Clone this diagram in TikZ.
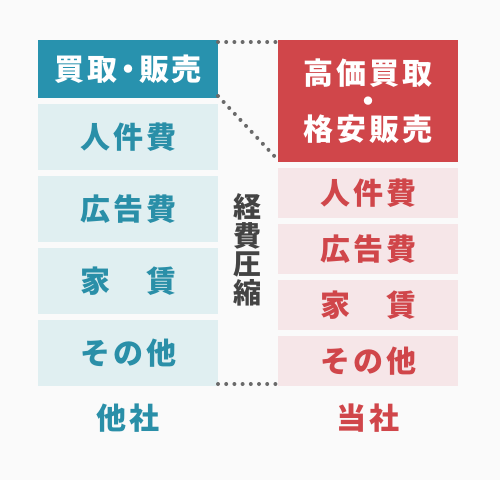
\documentclass[tikz,border=0pt]{standalone}
\usepackage{fontspec}
\usepackage{tikz}
\usetikzlibrary{positioning}
\newfontfamily\jpfont{Noto Sans CJK JP}[LetterSpace=10]
\newfontfamily\jpplain{Noto Sans CJK JP}
\definecolor{bgcol}{HTML}{FAFAFA}
\definecolor{teal}{HTML}{2892AE}
\definecolor{tealtext}{HTML}{2A8FA8}
\definecolor{teallight}{HTML}{E0EFF1}
\definecolor{redcol}{HTML}{D0464A}
\definecolor{redlight}{HTML}{F6E6E8}
\definecolor{dotcol}{HTML}{6A6A6A}
\definecolor{darkcol}{HTML}{444444}
\tikzstyle{cost} = [rectangle, minimum width=180pt, inner sep=0pt, outer sep=0pt, text centered, font=\jpfont\bfseries\fontsize{30}{33}\selectfont]
\tikzstyle{others} = [cost, minimum height=66pt, fill=teallight, text=tealtext]
\tikzstyle{ours} = [cost, minimum height=50pt, fill=redlight, text=redcol]
\tikzstyle{dots} = [dotcol, line width=4pt, line cap=round, dash pattern=on 0pt off 8.2pt]

\begin{document}
\begin{tikzpicture}[x=1pt, y=-1pt, node distance=6pt]
            \fill[bgcol] (0,0) rectangle (500,480);
            \useasboundingbox (0,0) rectangle (500,480);
            % other companies
            \node[cost, minimum height=58pt, fill=teal, text=white, anchor=north west] (obuy) at (38,40) {買取\kern-4pt・\kern-4pt販売};
            \node[others, below=of obuy] (o1) {人件費};
            \node[others, below=of o1] (o2) {広告費};
            \node[others, below=of o2] (o3) {家　賃};
            \node[others, below=of o3] (o4) {その他};
            \node[cost, text=tealtext, below=18pt of o4] (oname) {他社};
            % our company
            \node[cost, minimum height=122pt, fill=redcol, text=white, align=center, anchor=north west] (ubuy) at (278,40) {高価買取\\[-5pt]・\\[-5pt]格安販売};
            \node[ours, below=of ubuy] (u1) {人件費};
            \node[ours, below=of u1] (u2) {広告費};
            \node[ours, below=of u2] (u3) {家　賃};
            \node[ours, below=of u3] (u4) {その他};
            \node[cost, text=redcol, below=18pt of u4] (uname) {当社};
            % cost cut
            \node[text=darkcol, align=center, font=\jpplain\bfseries\fontsize{28}{28.5}\selectfont] (cut) at (247,250) {経\\費\\圧\\縮};
            \draw[dots] ([yshift=-2pt]obuy.north east) -- ([yshift=-2pt]ubuy.north west);
            \draw[dots] ([yshift=2pt]obuy.south east) -- ([yshift=2pt]ubuy.south west);
            \draw[dots] ([yshift=2pt]o4.south east) -- ([yshift=2pt]u4.south west);
        \end{tikzpicture}
\end{document}
